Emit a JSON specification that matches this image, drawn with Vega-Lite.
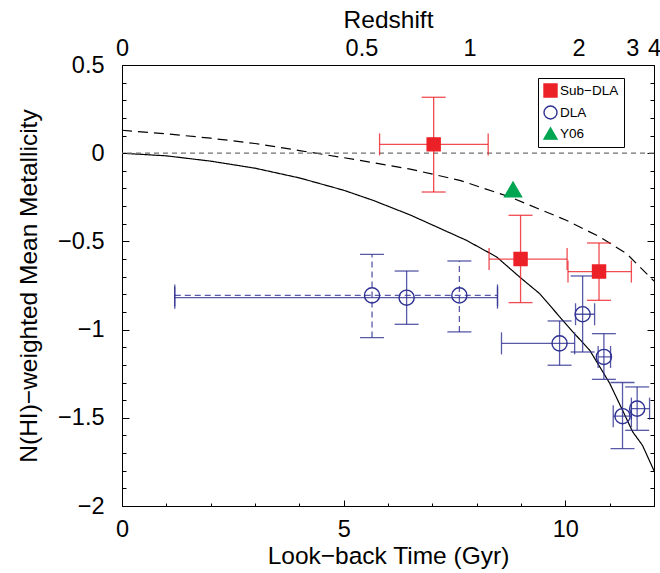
{
  "$schema": "https://vega.github.io/schema/vega-lite/v6.json",
  "width": 532,
  "height": 441,
  "autosize": {"type": "none"},
  "padding": {"left": 122, "top": 65, "right": 6, "bottom": 67},
  "datasets": {
    "points": [
      {"series": "Sub−DLA", "sample": "full", "t": 7.03, "m": 0.05, "tlo": 5.81, "thi": 8.26, "mlo": -0.22, "mhi": 0.317},
      {"series": "Sub−DLA", "sample": "full", "t": 8.99, "m": -0.6, "tlo": 8.28, "thi": 10.04, "mlo": -0.847, "mhi": -0.352},
      {"series": "Sub−DLA", "sample": "full", "t": 10.76, "m": -0.671, "tlo": 10.06, "thi": 11.49, "mlo": -0.834, "mhi": -0.509},
      {"series": "DLA", "sample": "full", "t": 6.42, "m": -0.819, "tlo": 1.19, "thi": 8.47, "mlo": -0.97, "mhi": -0.668},
      {"series": "DLA", "sample": "partial", "t": 5.64, "m": -0.806, "tlo": 1.19, "thi": 8.47, "mlo": -1.045, "mhi": -0.573},
      {"series": "DLA", "sample": "partial", "t": 7.61, "m": -0.806, "mlo": -1.013, "mhi": -0.611},
      {"series": "DLA", "sample": "full", "t": 9.87, "m": -1.078, "tlo": 8.56, "thi": 10.21, "mlo": -1.202, "mhi": -0.951},
      {"series": "DLA", "sample": "full", "t": 10.39, "m": -0.913, "tlo": 10.23, "thi": 10.66, "mlo": -1.127, "mhi": -0.696},
      {"series": "DLA", "sample": "full", "t": 10.87, "m": -1.155, "tlo": 10.74, "thi": 11.02, "mlo": -1.282, "mhi": -1.023},
      {"series": "DLA", "sample": "full", "t": 11.29, "m": -1.491, "tlo": 11.08, "thi": 11.49, "mlo": -1.675, "mhi": -1.3},
      {"series": "DLA", "sample": "full", "t": 11.62, "m": -1.448, "tlo": 11.49, "thi": 11.9, "mlo": -1.571, "mhi": -1.325},
      {"series": "Y06", "sample": "full", "t": 8.82, "m": -0.206}
    ],
    "models": [
      {"model": "A", "t": 0, "m": 0},
      {"model": "A", "t": 1, "m": -0.015},
      {"model": "A", "t": 2, "m": -0.045},
      {"model": "A", "t": 3, "m": -0.085},
      {"model": "A", "t": 4, "m": -0.14},
      {"model": "A", "t": 5, "m": -0.21},
      {"model": "A", "t": 5.66, "m": -0.267},
      {"model": "A", "t": 6.5, "m": -0.35},
      {"model": "A", "t": 7.77, "m": -0.494},
      {"model": "A", "t": 8.45, "m": -0.588},
      {"model": "A", "t": 8.97, "m": -0.702},
      {"model": "A", "t": 9.42, "m": -0.796},
      {"model": "A", "t": 9.94, "m": -0.947},
      {"model": "A", "t": 10.17, "m": -1.013},
      {"model": "A", "t": 10.55, "m": -1.117},
      {"model": "A", "t": 11.0, "m": -1.304},
      {"model": "A", "t": 11.29, "m": -1.457},
      {"model": "A", "t": 11.52, "m": -1.58},
      {"model": "A", "t": 11.74, "m": -1.656},
      {"model": "A", "t": 12.0, "m": -1.8},
      {"model": "B", "t": 0, "m": 0.13},
      {"model": "B", "t": 1, "m": 0.11},
      {"model": "B", "t": 2, "m": 0.085},
      {"model": "B", "t": 3, "m": 0.055},
      {"model": "B", "t": 4, "m": 0.015},
      {"model": "B", "t": 5.36, "m": -0.04},
      {"model": "B", "t": 6.5, "m": -0.09},
      {"model": "B", "t": 7.62, "m": -0.154},
      {"model": "B", "t": 8.75, "m": -0.248},
      {"model": "B", "t": 10.02, "m": -0.38},
      {"model": "B", "t": 10.78, "m": -0.475},
      {"model": "B", "t": 11.38, "m": -0.569},
      {"model": "B", "t": 12.0, "m": -0.725}
    ],
    "redshift": [
      {"z": "0", "t": 0},
      {"z": "0.5", "t": 5.4},
      {"z": "1", "t": 7.84},
      {"z": "2", "t": 10.3},
      {"z": "3", "t": 11.51},
      {"z": "4", "t": 12.0}
    ]
  },
  "resolve": {"axis": {"x": "independent", "y": "independent"}, "scale": {"strokeDash": "independent"}},
  "layer": [
    {
      "data": {"name": "models"},
      "mark": {"type": "line", "color": "black", "strokeWidth": 1.2},
      "encoding": {
        "x": {"field": "t", "type": "quantitative", "scale": {"domain": [0, 12], "nice": false, "zero": false},
          "axis": {"title": "Look−back Time (Gyr)", "orient": "bottom",
            "values": [0,1,2,3,4,5,6,7,8,9,10,11,12],
            "labelExpr": "datum.value % 5 === 0 ? datum.label : ''",
            "tickSize": {"condition": {"test": "datum.value % 5 === 0", "value": -6}, "value": -3},
            "labelFontSize": 23.5, "titleFontSize": 24.5,
            "labelPadding": 17, "titlePadding": 4, "labelFlush": false}},
        "y": {"field": "m", "type": "quantitative", "scale": {"domain": [-2, 0.5], "nice": false, "zero": false},
          "axis": {"title": "N(HI)−weighted Mean Metallicity", "orient": "left", "format": "~g",
            "values": [-2,-1.9,-1.8,-1.7,-1.6,-1.5,-1.4,-1.3,-1.2,-1.1,-1,-0.9,-0.8,-0.7,-0.6,-0.5,-0.4,-0.3,-0.2,-0.1,0,0.1,0.2,0.3,0.4,0.5],
            "labelExpr": "abs(datum.value*2 - round(datum.value*2)) < 0.001 ? datum.label : ''",
            "tickSize": {"condition": {"test": "abs(datum.value*2 - round(datum.value*2)) < 0.001", "value": -7}, "value": -4},
            "labelFontSize": 23.5, "titleFontSize": 24.5,
            "labelPadding": 25, "titlePadding": 16, "labelFlush": false}},
        "detail": {"field": "model"},
        "strokeDash": {"field": "model", "type": "nominal", "scale": {"domain": ["A", "B"], "range": [[1, 0], [10, 6]]}, "legend": null}
      }
    },
    {
      "data": {"values": [{"ref": 0}]},
      "mark": {"type": "rule", "color": "#707070", "strokeDash": [5, 4], "strokeWidth": 1.2},
      "encoding": {
        "y": {"field": "ref", "type": "quantitative", "scale": {"domain": [-2, 0.5], "nice": false, "zero": false}, "axis": null}
      }
    },
    {
      "data": {"name": "points"},
      "mark": {"type": "rule", "strokeWidth": 1.3, "opacity": 0.8},
      "encoding": {
        "x": {"field": "tlo", "type": "quantitative", "scale": {"domain": [0, 12], "nice": false, "zero": false}, "axis": null},
        "x2": {"field": "thi"},
        "y": {"field": "m", "type": "quantitative", "scale": {"domain": [-2, 0.5], "nice": false, "zero": false}, "axis": null},
        "color": {"field": "series", "type": "nominal", "scale": {"domain": ["DLA", "Sub−DLA", "Y06"], "range": ["#2e3192", "#ec2127", "#00a651"]}, "legend": null},
        "strokeDash": {"field": "sample", "type": "nominal", "scale": {"domain": ["full", "partial"], "range": [[1, 0], [6, 4]]}, "legend": null}
      }
    },
    {
      "data": {"name": "points"},
      "mark": {"type": "rule", "strokeWidth": 1.3, "opacity": 0.8},
      "encoding": {
        "x": {"field": "t", "type": "quantitative", "scale": {"domain": [0, 12], "nice": false, "zero": false}, "axis": null},
        "y": {"field": "mlo", "type": "quantitative", "scale": {"domain": [-2, 0.5], "nice": false, "zero": false}, "axis": null},
        "y2": {"field": "mhi"},
        "color": {"field": "series", "type": "nominal", "scale": {"domain": ["DLA", "Sub−DLA", "Y06"], "range": ["#2e3192", "#ec2127", "#00a651"]}, "legend": null},
        "strokeDash": {"field": "sample", "type": "nominal", "scale": {"domain": ["full", "partial"], "range": [[1, 0], [6, 4]]}, "legend": null}
      }
    },
    {
      "data": {"name": "points"},
      "mark": {"type": "tick", "orient": "vertical", "size": 22, "thickness": 1.3, "opacity": 0.8},
      "encoding": {
        "x": {"field": "tlo", "type": "quantitative", "scale": {"domain": [0, 12], "nice": false, "zero": false}, "axis": null},
        "y": {"field": "m", "type": "quantitative", "scale": {"domain": [-2, 0.5], "nice": false, "zero": false}, "axis": null},
        "color": {"field": "series", "type": "nominal", "scale": {"domain": ["DLA", "Sub−DLA", "Y06"], "range": ["#2e3192", "#ec2127", "#00a651"]}, "legend": null}
      }
    },
    {
      "data": {"name": "points"},
      "mark": {"type": "tick", "orient": "vertical", "size": 22, "thickness": 1.3, "opacity": 0.8},
      "encoding": {
        "x": {"field": "thi", "type": "quantitative", "scale": {"domain": [0, 12], "nice": false, "zero": false}, "axis": null},
        "y": {"field": "m", "type": "quantitative", "scale": {"domain": [-2, 0.5], "nice": false, "zero": false}, "axis": null},
        "color": {"field": "series", "type": "nominal", "scale": {"domain": ["DLA", "Sub−DLA", "Y06"], "range": ["#2e3192", "#ec2127", "#00a651"]}, "legend": null}
      }
    },
    {
      "data": {"name": "points"},
      "mark": {"type": "tick", "orient": "horizontal", "size": 24, "thickness": 1.3, "opacity": 0.8},
      "encoding": {
        "x": {"field": "t", "type": "quantitative", "scale": {"domain": [0, 12], "nice": false, "zero": false}, "axis": null},
        "y": {"field": "mlo", "type": "quantitative", "scale": {"domain": [-2, 0.5], "nice": false, "zero": false}, "axis": null},
        "color": {"field": "series", "type": "nominal", "scale": {"domain": ["DLA", "Sub−DLA", "Y06"], "range": ["#2e3192", "#ec2127", "#00a651"]}, "legend": null}
      }
    },
    {
      "data": {"name": "points"},
      "mark": {"type": "tick", "orient": "horizontal", "size": 24, "thickness": 1.3, "opacity": 0.8},
      "encoding": {
        "x": {"field": "t", "type": "quantitative", "scale": {"domain": [0, 12], "nice": false, "zero": false}, "axis": null},
        "y": {"field": "mhi", "type": "quantitative", "scale": {"domain": [-2, 0.5], "nice": false, "zero": false}, "axis": null},
        "color": {"field": "series", "type": "nominal", "scale": {"domain": ["DLA", "Sub−DLA", "Y06"], "range": ["#2e3192", "#ec2127", "#00a651"]}, "legend": null}
      }
    },
    {
      "data": {"name": "points"},
      "mark": {"type": "point", "strokeWidth": 1.4, "opacity": 1, "fillOpacity": 1},
      "encoding": {
        "x": {"field": "t", "type": "quantitative", "scale": {"domain": [0, 12], "nice": false, "zero": false}, "axis": null},
        "y": {"field": "m", "type": "quantitative", "scale": {"domain": [-2, 0.5], "nice": false, "zero": false}, "axis": null},
        "size": {"field": "series", "type": "nominal", "scale": {"domain": ["Y06", "DLA", "Sub−DLA"], "range": [290, 170, 185]}, "legend": null},
        "shape": {"field": "series", "type": "nominal", "scale": {"domain": ["Sub−DLA", "DLA", "Y06"], "range": ["square", "circle", "triangle-up"]},
          "legend": {"title": null, "orient": "none", "legendX": 416, "legendY": 13, "strokeColor": "black", "fillColor": "white", "padding": 5, "labelFont": "Liberation Sans", "labelFontSize": 13.5, "labelColor": "black", "symbolSize": 169, "symbolStrokeWidth": 1.4, "rowPadding": 3, "labelOffset": 2}},
        "fill": {"field": "series", "type": "nominal", "scale": {"domain": ["Sub−DLA", "DLA", "Y06"], "range": ["#ec2127", "transparent", "#00a651"]},
          "legend": {"title": null, "orient": "none", "legendX": 416, "legendY": 13, "strokeColor": "black", "fillColor": "white", "padding": 5, "labelFont": "Liberation Sans", "labelFontSize": 13.5, "labelColor": "black", "symbolSize": 169, "symbolStrokeWidth": 1.4, "rowPadding": 3, "labelOffset": 2}},
        "stroke": {"field": "series", "type": "nominal", "scale": {"domain": ["Sub−DLA", "DLA", "Y06"], "range": ["#ec2127", "#2e3192", "#00a651"]},
          "legend": {"title": null, "orient": "none", "legendX": 416, "legendY": 13, "strokeColor": "black", "fillColor": "white", "padding": 5, "labelFont": "Liberation Sans", "labelFontSize": 13.5, "labelColor": "black", "symbolSize": 169, "symbolStrokeWidth": 1.4, "rowPadding": 3, "labelOffset": 2}}
      }
    },
    {
      "data": {"name": "redshift"},
      "mark": {"type": "point", "opacity": 0},
      "encoding": {
        "x": {"field": "t", "type": "quantitative", "scale": {"domain": [0, 12], "nice": false, "zero": false},
          "axis": {"title": "Redshift", "orient": "top", "values": [0, 5.4, 7.84, 10.3, 11.51, 12.0],
            "labelExpr": "datum.value < 1 ? '0' : datum.value < 6 ? '0.5' : datum.value < 9 ? '1' : datum.value < 11 ? '2' : datum.value < 11.8 ? '3' : '4'",
            "labelFontSize": 23.5, "titleFontSize": 24.5,
            "ticks": false, "labelPadding": 5, "titlePadding": 4, "labelFlush": false}}
      }
    },
    {
      "data": {"values": [{"v": 0}]},
      "mark": {"type": "point", "opacity": 0},
      "encoding": {
        "y": {"field": "v", "type": "quantitative", "scale": {"domain": [-2, 0.5], "nice": false, "zero": false},
          "axis": {"title": null, "orient": "right", "labels": false,
            "values": [-2,-1.9,-1.8,-1.7,-1.6,-1.5,-1.4,-1.3,-1.2,-1.1,-1,-0.9,-0.8,-0.7,-0.6,-0.5,-0.4,-0.3,-0.2,-0.1,0,0.1,0.2,0.3,0.4,0.5],
            "tickSize": {"condition": {"test": "abs(datum.value*2 - round(datum.value*2)) < 0.001", "value": -7}, "value": -4}}}
      }
    }
  ],
  "config": {
    "font": "Liberation Sans",
    "view": {"stroke": "black", "strokeWidth": 1},
    "axis": {"labelFont": "Liberation Sans", "titleFont": "Liberation Sans", "labelFontSize": 23.5, "titleFontSize": 24.5, "titleFontWeight": "normal", "labelColor": "black", "titleColor": "black", "domainColor": "black", "tickColor": "black", "tickWidth": 1, "grid": false}
  }
}
